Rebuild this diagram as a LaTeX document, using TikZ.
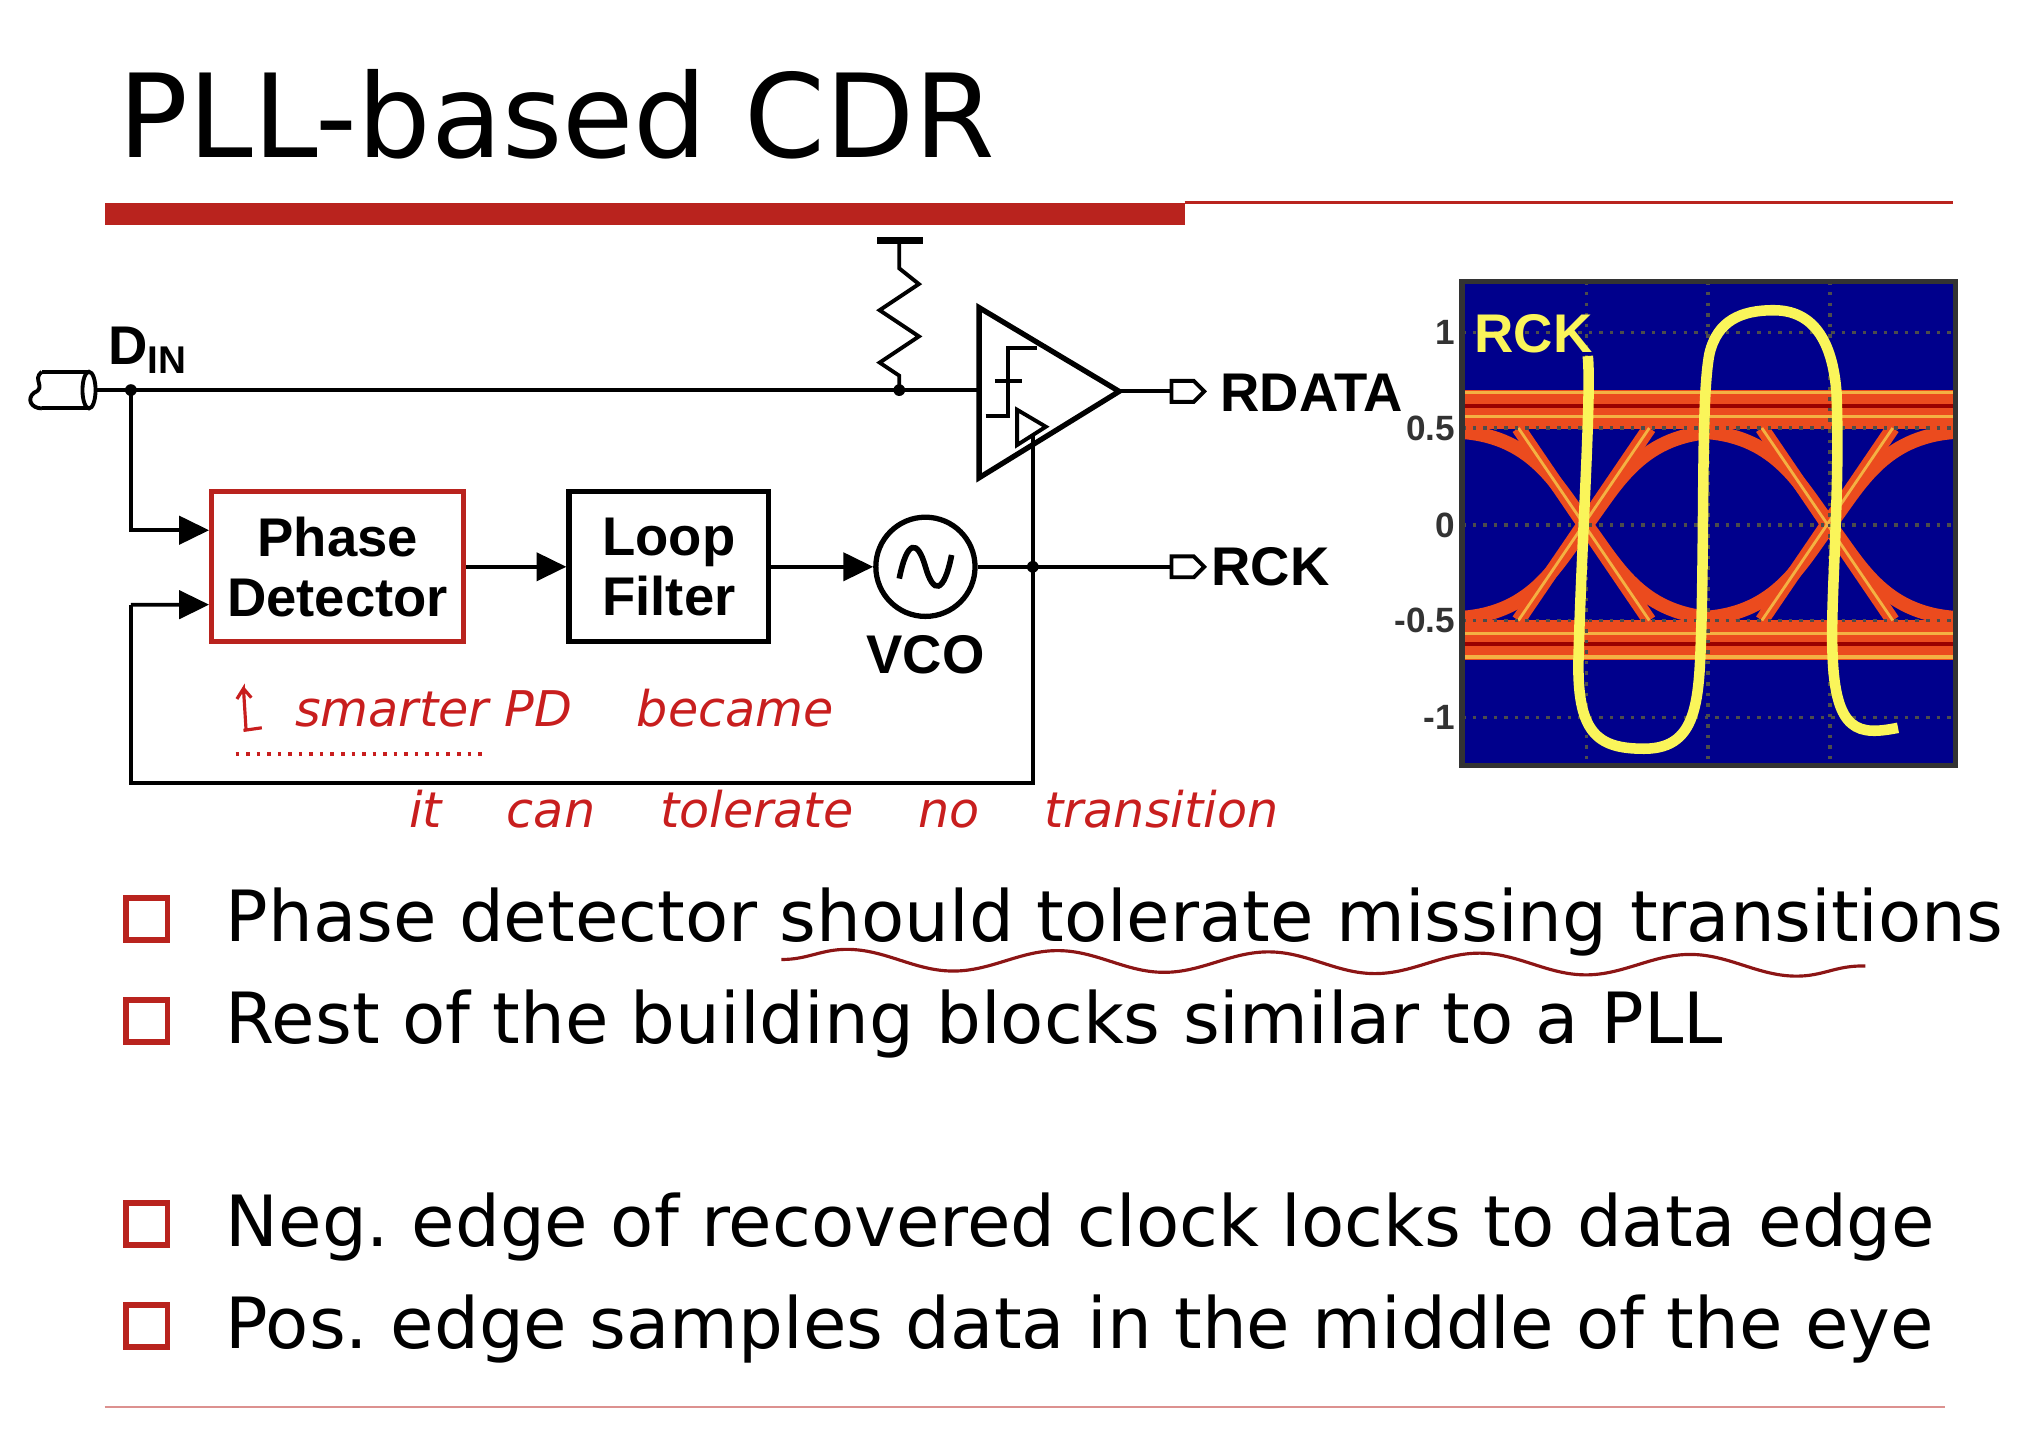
\documentclass[tikz,border=0pt]{standalone}
\usepackage{fontspec}
\setmainfont{DejaVu Sans}
\newfontfamily\arialf{Liberation Sans}
\usetikzlibrary{arrows.meta,decorations.pathmorphing}
\definecolor{slidered}{RGB}{185,35,30}
\definecolor{inkred}{RGB}{200,30,30}
\definecolor{eyebg}{RGB}{0,0,140}
\definecolor{eyeorange}{RGB}{235,75,30}
\definecolor{eyeyellow}{RGB}{250,245,90}
\tikzset{
  wire/.style={line width=1.1pt},
  blk/.style={draw, line width=1.5pt, minimum width=193*0.3715pt, minimum height=115*0.3715pt, align=center, font=\arialf\bfseries\fontsize{15.5}{17}\selectfont},
  lbl/.style={font=\arialf\bfseries\fontsize{15.5}{17}\selectfont, inner sep=0pt},
  arr/.style={wire, -{Triangle[length=8.5pt,width=8pt]}},
  port/.style={wire, fill=white},
  bullet/.style={draw=slidered, line width=1.6pt, minimum size=32*0.3715pt, inner sep=0pt},
  item/.style={anchor=base west, font=\fontsize{20.1}{24}\selectfont, inner sep=0pt},
  hand/.style={inkred, font=\itshape\fontsize{14}{16}\selectfont, inner sep=0pt},
  rail/.style={eyeorange, line width=4.5pt},
  trace/.style={eyeorange, line width=4pt},
}
\begin{document}
\frenchspacing
\begin{tikzpicture}[x=0.01309cm, y=-0.01309cm]
\useasboundingbox (0,0) rectangle (1560,1111);
% title
\node[anchor=base west, font=\fontsize{33}{38}\selectfont, inner sep=0pt] (title) at (90,120) {PLL-based CDR};
\fill[slidered] (80,155) rectangle (905,172);
\draw[slidered, line width=0.8pt] (905,155) -- (1492,155);
\draw[slidered!50, line width=0.6pt] (80,1075) -- (1486,1075);

% input cable
\draw[wire] (32,284) -- (68,284) (32,312) -- (68,312);
\draw[wire] (68,298) ellipse (5 and 14);
\draw[wire] (32,284) .. controls (24,290) and (36,296) .. (26,300) .. controls (20,305) and (24,312) .. (32,312);
\coordinate (cab) at (73,298);
\coordinate (din) at (100,298);
\fill (din) circle (4.5);
\node[lbl, anchor=south west] (dinl) at (82,286) {D\textsubscript{\fontsize{11}{12}\selectfont IN}};

% blocks
\node[blk, draw=slidered] (pd) at (258,433) {Phase\\Detector};
\node[blk, minimum width=153*0.3715pt] (lf) at (511,433) {Loop\\Filter};
\node[draw, circle, line width=1.5pt, minimum size=76*0.3715pt, inner sep=0pt] (vco) at (707,433) {};
\draw[line width=1.6pt] (687,442) .. controls (693,412) and (701,412) .. (707,433) .. controls (713,454) and (721,454) .. (727,424);
\node[lbl] (vcol) at (707,500) {VCO};

% comparator and resistor
\draw[line width=1.5pt] (748,235) -- (855,299) -- (748,365) -- cycle;
\coordinate (cin) at (748,298);
\coordinate (cout) at (855,299);
\draw[wire] (753,318) -- (770,318) -- (770,266) -- (792,266) (760,291) -- (781,291);
\draw[wire] (777,313) -- (799,326) -- (777,340) -- cycle;
\coordinate (ck) at (789,333);
\coordinate (rn) at (687,298);
\fill (rn) circle (4.5);
\draw[line width=2pt] (670,184) -- (705,184);
\draw[wire] (687,184) -- (687,205) -- (702,217) -- (672,237) -- (702,257) -- (672,277) -- (687,287) -- (rn);

% wiring
\draw[wire] (cab) -- (din) -- (cin);
\draw[arr] (din) |- ([yshift=28*0.3715pt]pd.west);
\draw[arr] (pd) -- (lf);
\draw[arr] (lf) -- (vco);
\coordinate (ckn) at (789,433);
\fill (ckn) circle (4.5);
\draw[wire] (vco) -- (895,433);
\draw[wire] (ck) -- (789,598) -- (100,598) -- (100,462);
\draw[arr] (100,462) -- ([yshift=-29*0.3715pt]pd.west);
\draw[wire] (cout) -- (895,299);
\draw[port] (895,291) -- (912,291) -- (920,299) -- (912,307) -- (895,307) -- cycle;
\draw[port] (895,425) -- (912,425) -- (920,433) -- (912,441) -- (895,441) -- cycle;
\node[lbl, anchor=west] (rdata) at (932,300) {RDATA};
\node[lbl, anchor=west] (rck) at (925,433) {RCK};

% handwritten notes
\draw[inkred, line width=0.9pt] (188,558) -- (186,526) -- (181,534) (186,526) -- (192,533) (186,558) -- (200,556);
\node[hand, anchor=base west] (note1) at (225,555) {smarter PD \quad became};
\draw[inkred, line width=1pt, dotted] (180,576) -- (373,576);
\node[hand, anchor=base west] (note2) at (312,632) {it \quad can \quad tolerate \quad no \quad transition};

% eye diagram
\begin{scope}
\clip (1117,215) rectangle (1494,585);
\fill[eyebg] (1117,215) rectangle (1494,585);
\foreach \yy in {304,313,322,480,489,498} \draw[rail] (1110,\yy) -- (1500,\yy);
\foreach \xc in {1212,1398} {
  \draw[trace] (\xc-52,327) -- (\xc+48,474);
  \draw[trace] (\xc-52,474) -- (\xc+48,327);
  \draw[trace] (\xc-95,472) .. controls (\xc-40,468) and (\xc-22,430) .. (\xc,401) .. controls (\xc+22,372) and (\xc+40,334) .. (\xc+95,330);
  \draw[trace] (\xc-95,330) .. controls (\xc-40,334) and (\xc-22,372) .. (\xc,401) .. controls (\xc+22,430) and (\xc+40,468) .. (\xc+95,472);
  \draw[eyeyellow!60!eyeorange, line width=0.8pt] (\xc-52,327) -- (\xc+48,474) (\xc-52,474) -- (\xc+48,327);
}
\foreach \yy in {300,318,484,502} \draw[eyeyellow!60!eyeorange, line width=1pt] (1110,\yy) -- (1500,\yy);
\foreach \yy in {310,492} \draw[red!60!black, line width=1pt] (1110,\yy) -- (1500,\yy);
\foreach \xg in {1212,1305,1398} \draw[black!70, line width=1pt, dotted] (\xg,215) -- (\xg,585);
\foreach \yg in {254,327,401,474,548} \draw[black!70, line width=1pt, dotted] (1117,\yg) -- (1494,\yg);
\draw[eyeyellow, line width=3pt] (1213,272) .. controls (1216,300) and (1208,420) .. (1206,500)
  .. controls (1204,560) and (1220,572) .. (1256,572) .. controls (1300,572) and (1298,530) .. (1300,470)
  .. controls (1302,380) and (1300,300) .. (1306,270) .. controls (1312,245) and (1330,237) .. (1355,237)
  .. controls (1385,237) and (1400,260) .. (1403,300) .. controls (1406,380) and (1398,460) .. (1400,500)
  .. controls (1402,560) and (1420,562) .. (1450,556);
\end{scope}
\draw[black!80, line width=1.5pt] (1117,215) rectangle (1494,585);
\node[font=\arialf\bfseries\fontsize{15.5}{17}\selectfont, text=eyeyellow, anchor=west, inner sep=0pt] (rckeye) at (1126,255) {RCK};
\foreach \v/\yt in {1/254,0.5/327,0/401,-0.5/474,-1/548}
  \node[font=\arialf\bfseries\fontsize{10}{11}\selectfont, text=black!80, anchor=east, inner sep=0pt] (tick\yt) at (1112,\yt) {\v};

% bullets
\foreach \yb/\txt in {702/{Phase detector should tolerate missing transitions}, 780/{Rest of the building blocks similar to a PLL}, 935/{Neg. edge of recovered clock locks to data edge}, 1013/{Pos. edge samples data in the middle of the eye}} {
  \node[bullet] (b\yb) at (112,\yb) {};
  \node[item] (t\yb) at (172,\yb+17) {\txt};
}
\draw[inkred!70!black, line width=0.9pt, decorate, decoration={snake, amplitude=3, segment length=60}] (597,733) -- (1425,738);
\end{tikzpicture}
\end{document}
